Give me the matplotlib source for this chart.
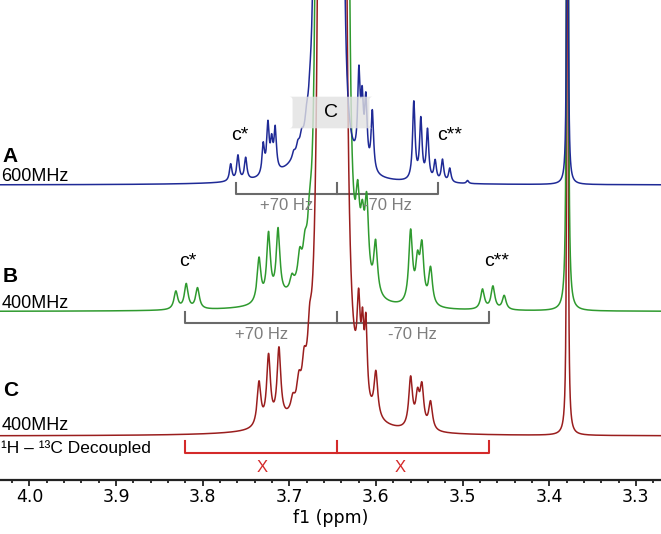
import numpy as np
import matplotlib
matplotlib.use('Agg')
import matplotlib.pyplot as plt
from matplotlib.patches import FancyBboxPatch
from matplotlib.ticker import MultipleLocator

# peak tables (ppm, height above baseline in px, half width in ppm)
# A: 600 MHz
a_ppm = [3.7677, 3.7593, 3.7504,
         3.7301, 3.7247, 3.7204, 3.7163,
         3.6950, 3.6901, 3.6858, 3.6800, 3.6762,
         3.6677, 3.6615, 3.6560, 3.6500, 3.6455, 3.6410,
         3.6197, 3.6159, 3.6116, 3.6042,
         3.5563, 3.5482, 3.5405,
         3.5317, 3.5232, 3.5148,
         3.4943, 3.3790, 3.6750]
a_height = [17, 25, 22,
            30, 48, 28, 42,
            6, 8, 10, 12, 12,
            10000, 10000, 10000, 10000, 10000, 10000,
            85, 58, 65, 60,
            78, 60, 50,
            20, 22, 14,
            3, 2500, 25]
a_hw = [0.0017, 0.0017, 0.0017,
        0.0017, 0.0017, 0.0017, 0.0017,
        0.002, 0.002, 0.002, 0.002, 0.002,
        0.00067, 0.00037, 0.00037, 0.00037, 0.00037, 0.00067,
        0.0017, 0.0017, 0.0017, 0.0017,
        0.0017, 0.0017, 0.0017,
        0.0017, 0.0017, 0.0017,
        0.0015, 0.00035, 0.025]

# B: 400 MHz
b_ppm = [3.8310, 3.8190, 3.8060,
         3.7350, 3.7240, 3.7130,
         3.6970, 3.6880, 3.6820, 3.6765,
         3.6658, 3.6590, 3.6530, 3.6470, 3.6410, 3.6350,
         3.6210, 3.6157, 3.6107, 3.6004,
         3.5600, 3.5520, 3.5470, 3.5370,
         3.4770, 3.4650, 3.4520,
         3.3790, 3.6750]
b_height = [18, 25, 21,
            44, 66, 68,
            12, 25, 22, 30,
            10000, 10000, 10000, 10000, 10000, 10000,
            65, 50, 80, 52,
            72, 38, 55, 37,
            20, 23, 14,
            2500, 12]
b_hw = [0.0026, 0.0026, 0.0026,
        0.0026, 0.0026, 0.0026,
        0.0026, 0.0026, 0.0026, 0.0026,
        0.00081, 0.00045, 0.00045, 0.00045, 0.00045, 0.00081,
        0.0026, 0.0026, 0.0026, 0.0026,
        0.0026, 0.0026, 0.0026, 0.0026,
        0.0026, 0.0026, 0.0026,
        0.0005, 0.03]

# C: 400 MHz, 1H-13C decoupled
c_ppm = [3.7350, 3.7240, 3.7120,
         3.6960, 3.6890, 3.6830, 3.6765,
         3.6617, 3.6560, 3.6500, 3.6450, 3.6394,
         3.6200, 3.6155, 3.6116, 3.6001,
         3.5600, 3.5520, 3.5470, 3.5370,
         3.3790, 3.6750]
c_height = [44, 68, 72,
            12, 22, 28, 35,
            20000, 10000, 10000, 10000, 20000,
            80, 60, 75, 45,
            50, 30, 40, 28,
            2500, 6]
c_hw = [0.0026, 0.0026, 0.0026,
        0.0026, 0.0026, 0.0026, 0.0026,
        0.00085, 0.00045, 0.00045, 0.00045, 0.00085,
        0.0022, 0.0018, 0.0018, 0.0026,
        0.0026, 0.0026, 0.0026, 0.0026,
        0.0004, 0.03]

names = ['A', 'B', 'C']
fields = ['600MHz', '400MHz', '400MHz']
field_mhz = [600, 400, 400]
coupling_hz = 70
center_ppm = 3.645
sat_ppm_a = [3.757, 3.515]
sat_ppm_b = [3.817, 3.461]
x_marks = [3.731, 3.572]


def spectrum(x, ppm, height, hw):
    y = np.zeros_like(x)
    for p, h, w in zip(ppm, height, hw):
        y += h / (1 + ((x - p) / w) ** 2)
    return y


fig = plt.figure(figsize=(6.61, 5.34), dpi=100)
ax = fig.add_axes([0, 54 / 534, 1, 480 / 534])

x = np.linspace(3.26, 4.05, 80000)
offsets = [295, 168.5, 44]
colors = ['#1f2a96', '#2f9a2f', '#9a1e1e']
tables = [(a_ppm, a_height, a_hw), (b_ppm, b_height, b_hw), (c_ppm, c_height, c_hw)]
zs = [4, 3, 2]
for (pp, hh, ww), off, col, z in zip(tables, offsets, colors, zs):
    ax.plot(x, off + spectrum(x, pp, hh, ww), color=col, lw=1.1, zorder=z)

# coupling brackets
brackets = [(286, 297, '#6a6a6a'), (157.3, 168.3, '#6a6a6a'), (27.3, 39, '#d42a2a')]
for (ybot, ytop, col), mhz in zip(brackets, field_mhz):
    half = coupling_hz / mhz
    left, right = center_ppm + half, center_ppm - half
    ax.plot([left, left, right, right], [ytop, ybot, ybot, ytop], color=col, lw=1.5, zorder=1)
    ax.plot([center_ppm, center_ppm], [ybot, ytop], color=col, lw=1.5, zorder=1)

lab = dict(family='Liberation Sans', ha='center', va='center')
for ylab, mhz in zip([275, 145.5], field_mhz[:2]):
    half = coupling_hz / mhz
    ax.text(center_ppm + half / 2, ylab, '+70 Hz', color='#7d7d7d', fontsize=12, **lab)
    ax.text(center_ppm - half / 2, ylab, '-70 Hz', color='#7d7d7d', fontsize=12, **lab)
for xm in x_marks:
    ax.text(xm, 13, 'X', color='#d42a2a', fontsize=12, **lab)

# satellite labels
ax.text(sat_ppm_a[0], 345, 'c*', fontsize=14, **lab)
ax.text(sat_ppm_a[1], 345, 'c**', fontsize=14, **lab)
ax.text(sat_ppm_b[0], 218, 'c*', fontsize=14, **lab)
ax.text(sat_ppm_b[1], 218, 'c**', fontsize=14, **lab)

# C label box over main peak
box = FancyBboxPatch((3.6963, 351.7), -0.0888, 31.6,
                     boxstyle='round,pad=0,rounding_size=0.004',
                     mutation_aspect=1 / 0.001154, fc='#e2e2e2', ec='none',
                     alpha=0.8, zorder=10)
ax.add_patch(box)
ax.text(3.652, 367.5, 'C', fontsize=14, zorder=11, **lab)

# left labels
tr = ax.get_yaxis_transform()
side = dict(family='Liberation Sans', ha='left', va='center', transform=tr)
for name, fld, yn, yf in zip(names, fields, [323, 204, 90], [303.5, 176.5, 54]):
    ax.text(0.004, yn, name, fontsize=15, fontweight='bold', **side)
    ax.text(0.002, yf, fld, fontsize=13, **side)
ax.text(0.002, 31.5, '\u00b9H \u2013 \u00b9\u00b3C Decoupled', fontsize=12.5, **side)

ax.set_xlim(4.034, 3.271)
ax.set_ylim(0, 480)
ax.xaxis.set_major_locator(MultipleLocator(0.1))
ax.xaxis.set_minor_locator(MultipleLocator(0.02))
ax.xaxis.set_major_formatter(matplotlib.ticker.FormatStrFormatter('%.1f'))
ax.tick_params(axis='x', which='major', length=4, width=1.3, color='#222222',
               labelsize=12.5, pad=2)
ax.tick_params(axis='x', which='minor', length=2.5, width=1.3, color='#222222')
ax.set_yticks([])
for s in ['top', 'left', 'right']:
    ax.spines[s].set_visible(False)
ax.spines['bottom'].set_linewidth(1.6)
ax.spines['bottom'].set_color('#222222')
ax.set_xlabel('f1 (ppm)', fontsize=12.5, labelpad=2)
ax.patch.set_alpha(0)

fig.savefig('out.png', dpi=100)
